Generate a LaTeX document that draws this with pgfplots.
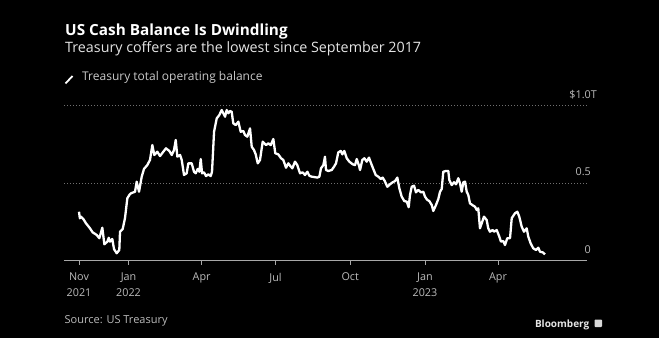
\documentclass[border=0pt]{standalone}
\usepackage{pgfplots}
\pgfplotsset{compat=1.18}
\usepackage{fontspec}
\setmainfont{Open Sans}
\definecolor{ticklab}{HTML}{BBBBBB}
\definecolor{gridc}{HTML}{707070}
\definecolor{axisc}{HTML}{A8A8A8}
\definecolor{subt}{HTML}{E4E4E4}
\begin{document}
\begin{tikzpicture}[x=1pt,y=1pt]
\fill[black] (0,0) rectangle (659,338);
\useasboundingbox (0,0) rectangle (659,338);
\begin{axis}[
  at={(64pt,77.3pt)}, anchor=south west,
  scale only axis, width=523pt, height=155pt,
  xmin=-18.5, xmax=625.6, ymin=0, ymax=1,
  axis x line*=bottom, axis y line*=right,
  y axis line style={draw=none},
  x axis line style={draw=axisc, line width=0.8pt},
  xtick={0,61,151,242,334,426,516},
  xticklabels={Nov\\2021,Jan\\2022,Apr,Jul,Oct,Jan\\2023,Apr},
  xticklabel style={align=center, font=\fontsize{10.8}{15.5}\selectfont, text=ticklab, anchor=north, inner sep=0pt, yshift=-8pt},
  xtick style={draw=axisc, line width=0.8pt},
  tick align=outside,
  major tick length=4pt,
  ytick={0,0.5,1},
  yticklabels={0,0.5,\$1.0\rlap{T}},
  yticklabel style={font=\fontsize{10.8}{13}\selectfont, text=ticklab, anchor=base east, inner sep=0pt, xshift=0pt, yshift=7.5pt},
  ytick style={draw=none},
  ymajorgrids,
  grid style={gridc, line width=0.8pt, dash pattern=on 0.8pt off 2.2pt},
  clip=false,
]
\addplot[white, line width=2.3pt, line join=round] coordinates {
(0,0.316)(1,0.274)(2.5,0.284)(5.3,0.269)(8.6,0.241)(13.5,0.209)(16.8,0.183)(21.8,0.166)(25,0.145)(28.7,0.213)(31.2,0.106)(34.9,0.123)(36.6,0.148)(38.2,0.123)(41,0.14)(43.1,0.075)(46.4,0.048)(49.6,0.069)(50.5,0.187)(53.8,0.205)(56.6,0.274)(59.5,0.403)(62,0.424)(64,0.435)(69,0.445)(71,0.51)(73.9,0.445)(77.2,0.542)(80,0.592)(84.1,0.617)(87.4,0.65)(90.3,0.746)(92.7,0.682)(96.4,0.703)(99.8,0.675)(103.8,0.703)(107.1,0.725)(111.2,0.708)(114.2,0.682)(117,0.714)(119.1,0.779)(121.1,0.671)(124.4,0.682)(126.5,0.65)(129.3,0.553)(132.6,0.564)(134.6,0.628)(138.8,0.628)(141.6,0.574)
(143.7,0.564)(146.2,0.592)(148.2,0.574)(149.9,0.656)(151.5,0.564)(153.9,0.57)(156.4,0.546)(159.2,0.557)(162.2,0.546)(163.8,0.574)(166.3,0.832)(169.6,0.918)(172.8,0.94)(175.7,0.972)(177.7,0.951)(179.8,0.929)(181.9,0.972)(183.9,0.951)(186,0.966)(188,0.961)(190,0.886)(193,0.875)(196.2,0.897)(199.1,0.832)(202.3,0.837)(204.4,0.811)(207.3,0.8)(210.6,0.854)(212.7,0.735)(215.5,0.714)(217.6,0.686)(220.1,0.628)(222.9,0.65)(226.2,0.768)(230.3,0.746)(233.1,0.757)(236.1,0.746)(239.3,0.785)(241.7,0.693)(245.4,0.686)(248.8,0.661)(251.6,0.65)(254.9,0.6)(257.8,0.628)(259.9,0.613)(262.7,0.596)(266,0.639)(268.8,0.617)(272.2,0.564)(275.5,0.57)(278.3,0.553)(281.2,0.574)(283.6,0.548)(286.6,0.542)(289.4,0.54)
(293.5,0.536)(296,0.542)(298,0.596)(300.9,0.617)(302.9,0.671)(304.2,0.585)(307,0.579)(311.2,0.585)(314,0.606)(316.5,0.628)(319.3,0.699)(322.3,0.708)(324.3,0.686)(326.7,0.708)(329.7,0.661)(332.9,0.639)(337.1,0.622)(339.9,0.617)(342,0.656)(344.8,0.613)(346.1,0.585)(348.9,0.65)(351.4,0.661)(354.3,0.639)(357.1,0.665)(360.5,0.617)(362.4,0.592)(365.4,0.553)(368.6,0.542)(371.5,0.527)(374,0.536)(376.5,0.514)(379.7,0.477)(383,0.493)(386.3,0.506)(389.2,0.514)(392,0.536)(394.5,0.467)(397.4,0.413)(400.6,0.385)(403.6,0.381)(406,0.345)(407.6,0.424)(409.7,0.477)(412.6,0.484)(415,0.441)(417.9,0.456)(421.2,0.441)(424,0.445)(426.1,0.413)(428.9,0.392)(431.4,0.385)(434.4,0.359)(436.3,0.321)
(439.6,0.359)(442.5,0.398)(444.6,0.445)(446.7,0.463)(448.6,0.574)(452,0.579)(454.8,0.579)(456,0.521)(459,0.488)(461.8,0.506)(464.3,0.493)(467.1,0.532)(469.2,0.499)(471.3,0.445)(473.3,0.506)(475.4,0.51)(477.5,0.445)(479.4,0.424)(481.5,0.37)(484.4,0.359)(487.7,0.348)(489.8,0.327)(491.7,0.338)(493.8,0.209)(495.9,0.241)(498.7,0.284)(502,0.263)(504,0.209)(506.1,0.187)(509.4,0.198)(511.1,0.187)(514.4,0.198)(517.2,0.161)(519.7,0.123)(522.5,0.127)(524.6,0.101)(527.4,0.145)(530.8,0.145)(532.9,0.274)(536.9,0.306)(539.8,0.316)(542.2,0.284)(545.2,0.219)(548,0.187)(551.3,0.209)(553.3,0.155)(556.2,0.112)(559.4,0.08)(562.8,0.069)(565.6,0.084)(567.7,0.058)(571,0.054)(573.9,0.041)
};
\end{axis}
\node[anchor=base west, inner sep=0pt, text=white, font=\fontsize{15.3}{18}\selectfont\bfseries] at (65,302.3) {US Cash Balance Is Dwindling};
\node[anchor=base west, inner sep=0pt, text=subt, font=\fontsize{14.3}{18}\selectfont] at (65,285.3) {Treasury coffers are the lowest since September 2017};
\draw[white, line width=1.8pt] (65.5,254.5) -- (72.5,262);
\node[anchor=base west, inner sep=0pt, text=ticklab!80!white, font=\fontsize{12}{14}\selectfont] at (82,257.3) {Treasury total operating balance};
\node[anchor=base west, inner sep=0pt, text=ticklab, font=\fontsize{11}{14}\selectfont] at (64.5,14.7) {Source: US Treasury};
\node[anchor=base east, inner sep=0pt, text=white!90!black, font=\fontsize{10}{13}\selectfont\bfseries] at (589.5,10.7) {Bloomberg};
\fill[white!85!black, rounded corners=0.8pt] (594.5,11) rectangle (602,18.5);
\end{tikzpicture}
\end{document}
